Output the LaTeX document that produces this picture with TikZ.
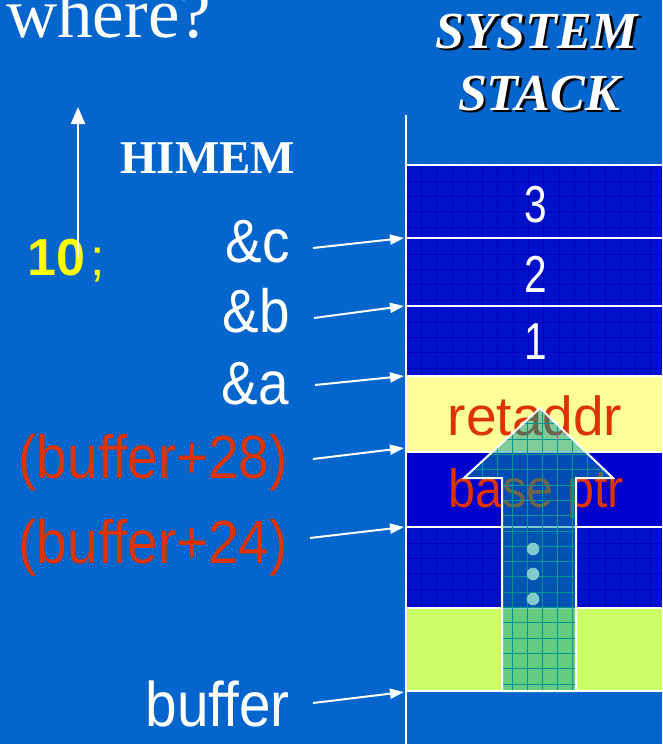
\documentclass[tikz,border=0pt]{standalone}
\usepackage{fontspec}
\setmainfont{Liberation Serif}
\newfontfamily\lblfont[FakeStretch=0.9]{Liberation Sans}
\newfontfamily\digfont[FakeStretch=0.78]{Liberation Sans}
\newfontfamily\plainsans{Liberation Sans}
\usetikzlibrary{arrows.meta}
\definecolor{bgblue}{RGB}{4,102,204}
\definecolor{stackdark}{RGB}{0,17,204}
\definecolor{gridblue}{RGB}{0,0,188}
\definecolor{baseblue}{RGB}{0,0,204}
\definecolor{retyellow}{RGB}{255,255,153}
\definecolor{bufgreen}{RGB}{204,255,102}
\definecolor{redtxt}{RGB}{221,51,0}
\definecolor{arrowteal}{RGB}{0,153,153}
\definecolor{arrowgrid}{RGB}{0,150,145}
\definecolor{dotcyan}{RGB}{128,204,204}
\definecolor{yel}{RGB}{255,255,0}
\tikzset{
  lbl/.style={inner sep=0pt, anchor=base east, text=white, font=\lblfont\fontsize{61}{61}\selectfont},
  redlbl/.style={lbl, text=redtxt},
  ptr/.style={draw=white, line width=2pt, -{Triangle[length=14pt,width=10pt]}},
  sepline/.style={draw=white, line width=2.5pt},
  digit/.style={inner sep=0pt, anchor=base, text=white, font=\digfont\fontsize{52}{52}\selectfont},
  title/.style={inner sep=0pt, anchor=base, font=\bfseries\itshape\fontsize{52}{52}\selectfont},
}
\begin{document}
\begin{tikzpicture}[x=1pt,y=-1pt]
\useasboundingbox (0,0) rectangle (662,744);
\clip (0,0) rectangle (662,744);
\fill[bgblue] (0,0) rectangle (662,744);

% --- stack cells ---
\fill[stackdark] (406,165) rectangle (662,376);
\fill[retyellow] (406,376) rectangle (662,452);
\fill[baseblue] (406,452) rectangle (662,527);
\fill[stackdark] (406,527) rectangle (662,608);
\fill[bufgreen] (406,608) rectangle (662,691);

% grids in dark cells
\foreach \top/\bot in {165/238, 238/306, 306/376, 527/608}{
  \begin{scope}
    \clip (406,\top) rectangle (662,\bot);
    \foreach \k in {1,...,17}{
      \draw[gridblue, line width=0.8pt] ({406+15.3*\k},\top) -- ({406+15.3*\k},\bot);
    }
    \foreach \k in {0,...,5}{
      \draw[gridblue, line width=0.8pt] (406,{\top+16+15.3*\k}) -- (662,{\top+16+15.3*\k});
    }
  \end{scope}
}

% separators
\foreach \y in {165,238,306,376,452,527,608,691}{
  \draw[sepline] (406,\y) -- (662,\y);
}
\draw[white, line width=2pt] (406,115) -- (406,744);

% stack contents
\node[digit] (d3) at (536,222) {3};
\node[digit] (d2) at (536,292) {2};
\node[digit] (d1) at (536,359) {1};
\node[inner sep=0pt, anchor=base, text=redtxt, font=\plainsans\fontsize{55}{55}\selectfont] (ret) at (535,435) {retaddr};
\node[inner sep=0pt, anchor=base, text=redtxt, font=\lblfont\fontsize{54}{54}\selectfont] (bp) at (536,507) {base ptr};

% big translucent arrow
\path[fill=arrowteal, fill opacity=0.5] (502,691) -- (502,478) -- (464,478) -- (540,408) -- (613,478) -- (576,478) -- (576,691) -- cycle;
\begin{scope}
  \clip (502,691) -- (502,478) -- (464,478) -- (540,408) -- (613,478) -- (576,478) -- (576,691) -- cycle;
  \foreach \k in {-3,...,8}{
    \draw[arrowgrid, line width=0.9pt] ({512+15*\k},400) -- ({512+15*\k},691);
  }
  \foreach \k in {0,...,19}{
    \draw[arrowgrid, line width=0.9pt] (460,{684-15.3*\k}) -- (620,{684-15.3*\k});
  }
\end{scope}
\draw[white, line width=2pt, line join=miter] (502,691) -- (502,478) -- (464,478) -- (540,408) -- (613,478) -- (576,478) -- (576,691) -- cycle;
\foreach \y/\n in {549/a,574/b,599/c}{
  \fill[dotcyan] (533,\y) circle (6.3) coordinate (dot\n);
}

% title
\node[title, text=black] (sysS) at (539.5,50.5) {SYSTEM};
\node[title, text=white] (sys) at (537,48) {SYSTEM};
\node[title, text=black] (stkS) at (541.5,112.5) {STACK};
\node[title, text=white] (stk) at (539,110) {STACK};

% left side texts
\node[inner sep=0pt, anchor=base west, text=white, font=\fontsize{71}{71}\selectfont] (where) at (6,37) {where?};
\node[inner sep=0pt, anchor=base west, text=white, font=\bfseries\fontsize{47}{47}\selectfont] (himem) at (120,173) {HIMEM};
\node[inner sep=0pt, anchor=base west, text=yel, font=\plainsans\fontsize{52}{52}\selectfont] (ten) at (27,275) {\bfseries 10\normalfont\plainsans\kern5pt;};

\coordinate (hiBot) at (78,257);
\coordinate (hiTop) at (78,107);
\draw[white, line width=2pt, -{Triangle[length=17pt,width=14pt]}] (hiBot) -- (hiTop);

\node[lbl] (lc) at (290,262) {\&c};
\node[lbl] (lb) at (290,332) {\&b};
\node[lbl] (la) at (289,404) {\&a};
\node[redlbl] (l28) at (288,478) {(buffer+28)};
\node[redlbl] (l24) at (288,563) {(buffer+24)};
\node[lbl, font=\lblfont\fontsize{63}{63}\selectfont] (lbuf) at (290,726) {buffer};

\coordinate (sc) at (313,248);   \coordinate (tc) at (404,238);
\coordinate (sb) at (314,318);   \coordinate (tb) at (404,306);
\coordinate (sa) at (315,385);   \coordinate (ta) at (404,376);
\coordinate (s28) at (313,459);  \coordinate (t28) at (404,448);
\coordinate (s24) at (310,538);  \coordinate (t24) at (404,527);
\coordinate (sbuf) at (313,703); \coordinate (tbuf) at (404,692);
\draw[ptr] (sc) -- (tc);
\draw[ptr] (sb) -- (tb);
\draw[ptr] (sa) -- (ta);
\draw[ptr] (s28) -- (t28);
\draw[ptr] (s24) -- (t24);
\draw[ptr] (sbuf) -- (tbuf);
\end{tikzpicture}
\end{document}
